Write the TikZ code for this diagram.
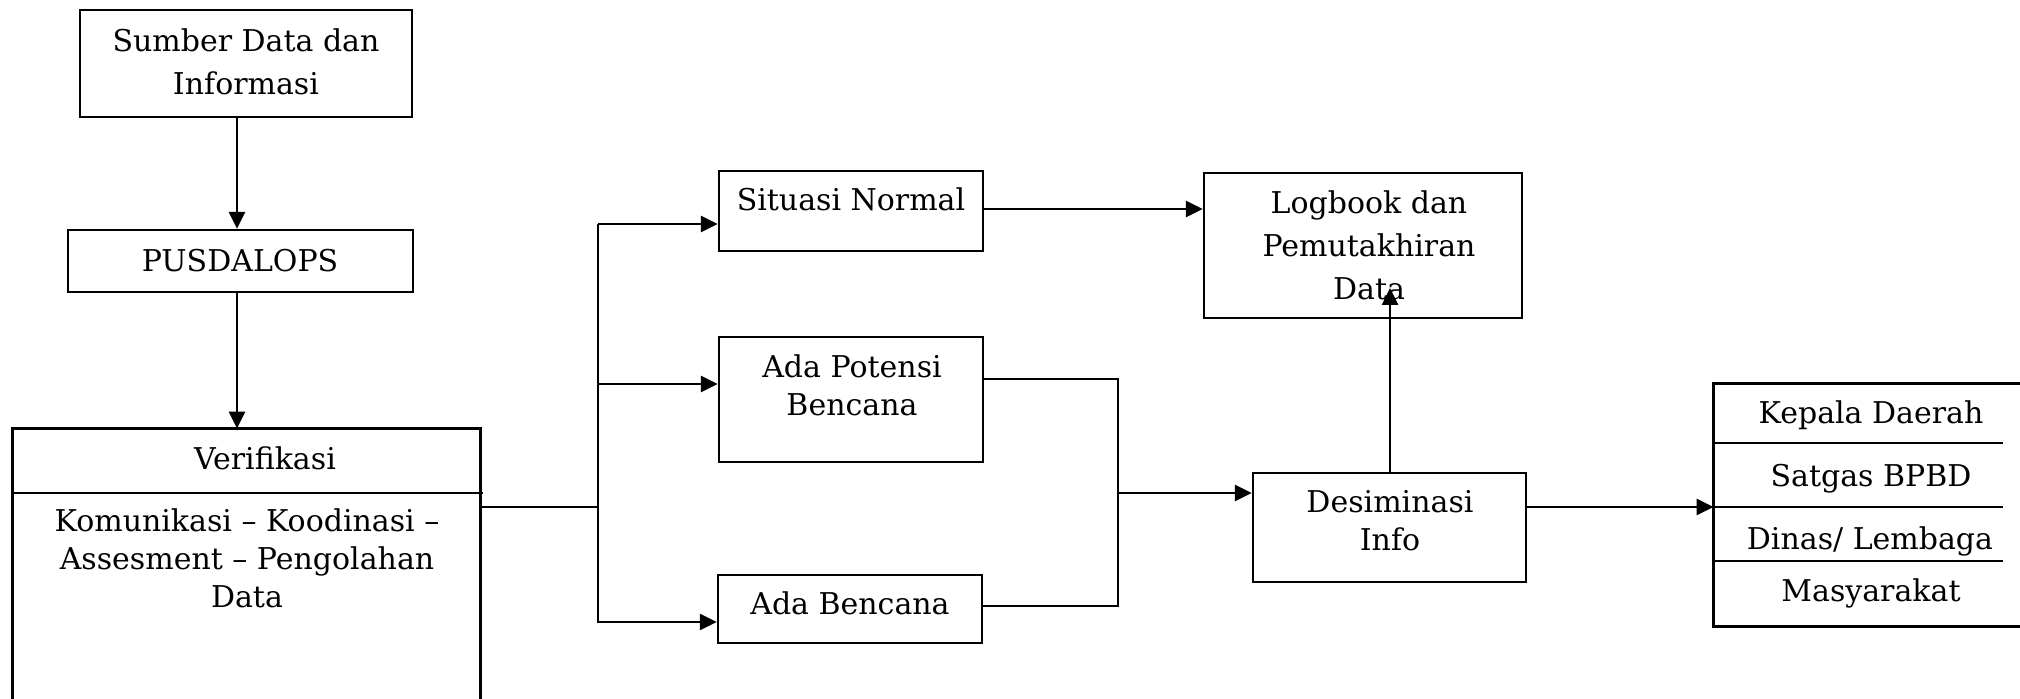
\documentclass[tikz,border=0pt]{standalone}
\usepackage{fontspec}
\setmainfont{DejaVu Serif}
\usetikzlibrary{arrows.meta,fit}
\begin{document}
\begin{tikzpicture}[x=0.5pt,y=-0.5pt,
  boxnode/.style={draw=black,line width=1.15pt,inner sep=0pt},
  areanode/.style={draw=none,inner sep=0pt},
  txt/.style={inner sep=0pt,anchor=base,align=center,font=\fontsize{15}{19}\selectfont},
  txtw/.style={inner sep=0pt,anchor=base,align=center,font=\fontsize{15}{21.5}\selectfont},
  conn/.style={line width=1.3pt},
  arr/.style={line width=1.3pt,-{Triangle[length=8.5pt,width=8pt]}}]
\useasboundingbox (0,0) rectangle (2020,699);

% boxes
\node[boxnode, fit={(80,10)(412,117)}] (sumber) {};
\node[boxnode, fit={(68,230)(413,292)}] (pus) {};
\node[areanode, fit={(13,429)(480,699)}] (ver) {};
\draw[line width=1.15pt] (ver.south west) -- (ver.north west) -- (ver.north east) -- (ver.south east);
\coordinate (verdivl) at (13,493);
\coordinate (verdivr) at (483,493);
\draw[line width=1.15pt] (verdivl) -- (verdivr);

\node[boxnode, fit={(719,171)(983,251)}] (sit) {};
\node[boxnode, fit={(719,337)(983,462)}] (pot) {};
\node[boxnode, fit={(718,575)(982,643)}] (ben) {};
\node[boxnode, fit={(1204,173)(1522,318)}] (log) {};
\node[boxnode, fit={(1253,473)(1526,582)}] (desi) {};

\node[areanode, fit={(1714,384)(2020,626)}] (list) {};
\draw[line width=1.15pt] (list.north east) -- (list.north west) -- (list.south west) -- (list.south east);
\coordinate (d1) at (2003,443);
\coordinate (d2) at (2003,507);
\coordinate (d3) at (2003,561);
\draw[line width=1.15pt] (list.west |- d1) -- (d1);
\draw[line width=1.15pt] (list.west |- d2) -- (d2);
\draw[line width=1.15pt] (list.west |- d3) -- (d3);

% texts (base anchor = baseline of last line)
\node[txtw] (sumbert) at (246,95) {Sumber Data dan\\Informasi};
\node[txt] (pust) at (240,272) {PUSDALOPS};
\node[txt] (vert) at (265,470) {Verifikasi};
\node[txt] (verb) at (247,608) {Komunikasi -- Koodinasi --\\Assesment -- Pengolahan\\Data};
\node[txt] (sitt) at (851,211) {Situasi Normal};
\node[txt] (pott) at (852,416) {Ada Potensi\\Bencana};
\node[txt] (bent) at (850,615) {Ada Bencana};
\node[txtw] (logt) at (1369,300) {Logbook dan\\Pemutakhiran\\Data};
\node[txt] (desit) at (1390,551) {Desiminasi\\Info};
\node[txt] (l1) at (1871,424) {Kepala Daerah};
\node[txt] (l2) at (1871,487) {Satgas BPBD};
\node[txt] (l3) at (1870,550) {Dinas/ Lembaga};
\node[txt] (l4) at (1871,602) {Masyarakat};

% connectors
\draw[arr] ([xshift=-4.5pt]sumber.south) -- ([xshift=-4.5pt]sumber.south |- pus.north);
\draw[arr] ([xshift=-1.75pt]pus.south) -- ([xshift=-1.75pt]pus.south |- ver.north);

\coordinate (trunk) at (598,507);
\coordinate (trunktop) at (598,224);
\coordinate (trunkbot) at (598,623);
\draw[conn] (ver.east |- trunk) -- (trunk);
\draw[conn] (trunktop) -- (trunkbot);
\draw[arr] (trunktop) -- (sit.west |- trunktop);
\draw[arr] (trunk |- 0,384) -- (pot.west |- 0,384);
\draw[arr] (trunk |- 0,622) -- (ben.west |- 0,622);

\draw[arr] (sit.east |- 0,209) -- (log.west |- 0,209);

\coordinate (mj) at (1118,493);
\draw[conn] (pot.east |- 0,379) -- (mj |- 0,379) -- (mj |- 0,606) -- (ben.east |- 0,606);
\draw[arr] (mj) -- (desi.west |- mj);

\coordinate (logend) at (1390,288);
\draw[arr] (desi.north -| logend) -- (logend);

\draw[arr] (desi.east |- d2) -- (list.west |- d2);
\end{tikzpicture}
\end{document}
